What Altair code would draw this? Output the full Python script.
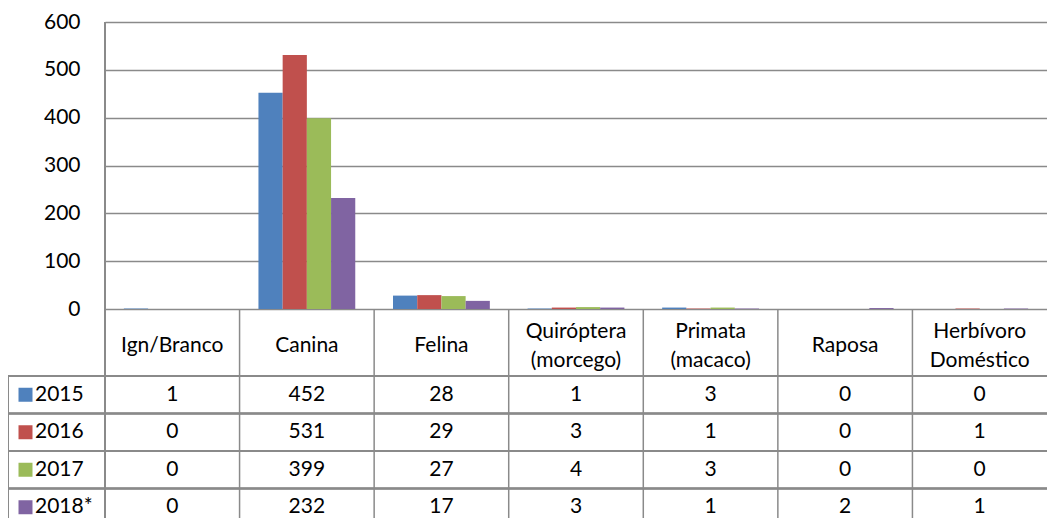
import altair as alt
import pandas as pd

categories = ["Ign/Branco", "Canina", "Felina", "Quiróptera (morcego)",
              "Primata (macaco)", "Raposa", "Herbívoro Doméstico"]
header_labels = ["Ign/Branco", "Canina", "Felina", "Quiróptera\n(morcego)",
                 "Primata\n(macaco)", "Raposa", "Herbívoro\nDoméstico"]
years = ["2015", "2016", "2017", "2018*"]
v2015 = [1, 452, 28, 1, 3, 0, 0]
v2016 = [0, 531, 29, 3, 1, 0, 1]
v2017 = [0, 399, 27, 4, 3, 0, 0]
v2018 = [0, 232, 17, 3, 1, 2, 1]
colors = ["#4F81BD", "#C0504D", "#9BBB59", "#8064A2"]
y_ticks = [0, 100, 200, 300, 400, 500, 600]

series = [v2015, v2016, v2017, v2018]
rows = []
for yr, vals in zip(years, series):
    for c, v in zip(categories, vals):
        rows.append({"cat": c, "year": yr, "value": v})
df = pd.DataFrame(rows)
hdr = pd.DataFrame({"cat": categories, "label": header_labels})
hdr["multi"] = hdr["label"].str.contains("\n")
yrs = pd.DataFrame({"year": years})

FONT = "Lato"
FS = 21
GRID = "#8a8a8a"
W, H = 942, 496
ZERO = 287          # pixel of value 0
TBL_TOP = 354       # top of first data row
ROW_H = 37.5
LEFT = -97          # left edge of table label column
HDR_Y = 324
LH = 29

xs = alt.X("cat:N", sort=categories,
           scale=alt.Scale(domain=categories, paddingInner=0, paddingOuter=0),
           axis=None)
ty = alt.Y("year:N", sort=years,
           scale=alt.Scale(type="point", domain=years,
                           range=[TBL_TOP + ROW_H / 2, TBL_TOP + ROW_H * 3.5],
                           padding=0),
           axis=None)
cscale = alt.Scale(domain=years, range=colors)

bars = alt.Chart(df).mark_bar().encode(
    x=xs,
    xOffset=alt.XOffset("year:N", sort=years,
                        scale=alt.Scale(domain=years, paddingInner=0, paddingOuter=0.78)),
    y=alt.Y("value:Q",
            scale=alt.Scale(domain=[0, 600], range=[ZERO, 0], nice=False, zero=True),
            axis=alt.Axis(values=y_ticks, grid=True, gridColor=GRID, gridWidth=1.5,
                          domain=False, ticks=False, labelPadding=25, title=None,
                          labelFont=FONT, labelFontSize=FS, labelColor="black")),
    color=alt.Color("year:N", scale=cscale, legend=None),
)

layers = [bars]

# vertical lines
layers.append(alt.Chart(hdr).mark_rule(color=GRID, strokeWidth=1.5).encode(
    x=alt.X("cat:N", sort=categories, bandPosition=0,
            scale=alt.Scale(domain=categories, paddingInner=0, paddingOuter=0), axis=None),
    y=alt.value(ZERO), y2=alt.value(H)))
layers.append(alt.Chart(hdr).mark_rule(color=GRID, strokeWidth=1.5).encode(
    x=alt.value(0), y=alt.value(0), y2=alt.value(H)))
layers.append(alt.Chart(hdr).mark_rule(color=GRID, strokeWidth=1.5).encode(
    x=alt.value(LEFT), y=alt.value(TBL_TOP), y2=alt.value(H)))
# horizontal lines
for i in range(4):
    layers.append(alt.Chart(hdr).mark_rule(color=GRID, strokeWidth=1.5).encode(
        x=alt.value(LEFT), x2=alt.value(W), y=alt.value(TBL_TOP + i * ROW_H)))

# header (single-line and two-line labels, vertically centred)
layers.append(alt.Chart(hdr).transform_filter("!datum.multi").mark_text(
    font=FONT, fontSize=FS, color="black", baseline="middle", align="center").encode(
    x=xs, y=alt.value(HDR_Y), text="label:N"))
layers.append(alt.Chart(hdr).transform_filter("datum.multi").mark_text(
    font=FONT, fontSize=FS, color="black", lineBreak="\n", lineHeight=LH,
    baseline="middle", align="center").encode(
    x=xs, y=alt.value(HDR_Y - LH / 2), text="label:N"))

# table values
layers.append(alt.Chart(df).mark_text(font=FONT, fontSize=FS, color="black",
                                      baseline="middle", align="center").encode(
    x=xs, y=ty, text="value:Q"))

# legend squares + year labels
layers.append(alt.Chart(yrs).mark_square(size=196, opacity=1).encode(
    x=alt.value(LEFT + 17.5), y=ty,
    color=alt.Color("year:N", scale=cscale, legend=None)))
layers.append(alt.Chart(yrs).mark_text(font=FONT, fontSize=FS, color="black",
                                       baseline="middle", align="left").encode(
    x=alt.value(LEFT + 27), y=ty, text="year:N"))

chart = alt.layer(*layers).resolve_scale(y="independent").properties(
    width=W, height=H,
    autosize=alt.AutoSizeParams(type="none"),
    padding={"left": 97, "top": 14, "right": 0, "bottom": 0},
).configure_view(stroke=None)

chart.save("out.html", embed_options={"renderer": "svg", "actions": False})
